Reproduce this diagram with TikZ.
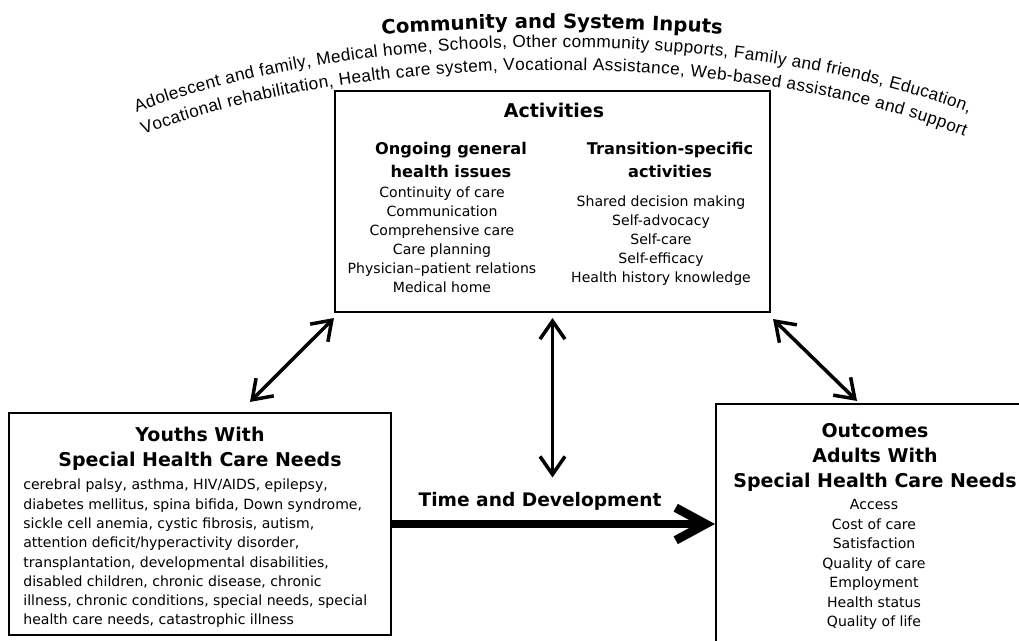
\documentclass[tikz,border=0pt]{standalone}
\usepackage{fontspec}
\setmainfont{DejaVu Sans}
\newfontfamily\arcfont{Liberation Sans}
\usetikzlibrary{arrows.meta,decorations.text}
\newcommand\arcsize{\arcfont\fontsize{9.8}{12}\selectfont}
\newcommand\titlesize{\bfseries\fontsize{11.2}{13}\selectfont}

\begin{document}
\begin{tikzpicture}[
    box/.style={draw, line width=1.2pt, inner sep=0pt},
    head/.style={font=\bfseries\fontsize{10.8}{14.4}\selectfont, align=center, inner sep=0pt},
    subhead/.style={font=\bfseries\fontsize{9.2}{13.1}\selectfont, align=center, inner sep=0pt},
    body/.style={font=\fontsize{8}{10.9}\selectfont, align=center, inner sep=0pt},
    dblarrow/.style={line width=2pt, {Straight Barb[length=3.6mm,width=5mm]}-{Straight Barb[length=3.6mm,width=5mm]}},
    bigarrow/.style={line width=5pt, -{Straight Barb[length=6mm,width=6.5mm]}}
]
    \useasboundingbox (0,0) rectangle (20.38,12.82);

    % curved inputs
    \path[decorate, decoration={text along path, text align=center,
        text={|\titlesize|Community and System Inputs}}]
        (11.04,9.26) ++(125:12 and 3) arc[start angle=125, end angle=55, x radius=12, y radius=3];
    \path[decorate, decoration={text along path, text align=fit to path,
        text={|\arcsize|Adolescent and family, Medical home, Schools, Other community supports, Family and friends, Education,}}]
        (11.04,7.20) ++(133.8:12 and 4.68) arc[start angle=133.8, end angle=46.2, x radius=12, y radius=4.68];
    \path[decorate, decoration={text along path, text align=fit to path,
        text={|\arcsize|Vocational rehabilitation, Health care system, Vocational Assistance, Web-based assistance and support}}]
        (11.04,6.96) ++(134.8:11.6 and 4.46) arc[start angle=134.8, end angle=44.9, x radius=11.6, y radius=4.46];

    % boxes
    \node[box, minimum width=8.7cm, minimum height=4.42cm] (act) at (11.05,8.79) {};
    \node[box, minimum width=7.64cm, minimum height=4.44cm] (youth) at (4.00,2.34) {};
    \node[box, minimum width=6.36cm, minimum height=5.04cm] (outc) at (17.50,2.22) {};

    % activities (base = last line)
    \node[head, anchor=base] (acttitle) at (11.08,10.46) {Activities};
    \node[subhead, anchor=base] (ongoing) at (9.02,9.26) {Ongoing general\\health issues};
    \node[subhead, anchor=base] (transition) at (13.40,9.26) {Transition-specific\\activities};
    \node[body, anchor=base] (ongoinglist) at (8.84,6.96) {Continuity of care\\Communication\\Comprehensive care\\Care planning\\Physician–patient relations\\Medical home};
    \node[body, anchor=base] (transitionlist) at (13.22,7.16) {Shared decision making\\Self-advocacy\\Self-care\\Self-efficacy\\Health history knowledge};

    % youths
    \node[head, anchor=base] (youthhead) at (4.00,3.48) {Youths With\\Special Health Care Needs};
    \node[body, align=left, anchor=base west, font=\fontsize{8}{11}\selectfont] (youthlist) at (0.46,0.32) {cerebral palsy, asthma, HIV/AIDS, epilepsy,\\diabetes mellitus, spina bifida, Down syndrome,\\sickle cell anemia, cystic fibrosis, autism,\\attention deficit/hyperactivity disorder,\\transplantation, developmental disabilities,\\disabled children, chronic disease, chronic\\illness, chronic conditions, special needs, special\\health care needs, catastrophic illness};

    % outcomes
    \node[head, anchor=base] (outchead) at (17.50,3.06) {Outcomes\\Adults With\\Special Health Care Needs};
    \node[body, anchor=base, font=\fontsize{8}{11.1}\selectfont] (outclist) at (17.48,0.28) {Access\\Cost of care\\Satisfaction\\Quality of care\\Employment\\Health status\\Quality of life};

    \node[head, anchor=base, font=\bfseries\fontsize{10.6}{13}\selectfont] (tad) at (10.80,2.68) {Time and Development};

    % arrows
    \draw[dblarrow] ([yshift=-0.1cm]act.south west) -- ([xshift=1cm,yshift=0.2cm]youth.north);
    \draw[dblarrow] ([yshift=-0.1cm]act.south) -- ([yshift=0.3cm]act.south |- tad.north);
    \draw[dblarrow] ([xshift=0.04cm,yshift=-0.12cm]act.south east) -- ([xshift=-0.36cm,yshift=0.04cm]outc.north);
    \draw[bigarrow] (youth.east) -- (youth.east -| outc.west);
\end{tikzpicture}
\end{document}
